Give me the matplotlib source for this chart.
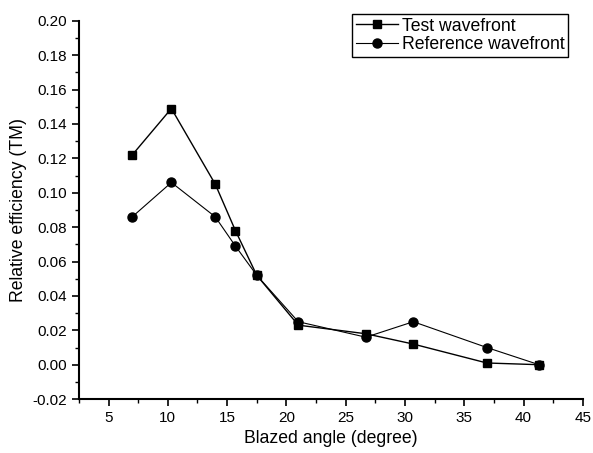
import matplotlib
matplotlib.use("Agg")
import matplotlib.pyplot as plt
from matplotlib.ticker import MultipleLocator, FormatStrFormatter

plt.rcParams['font.family'] = ['Liberation Sans', 'DejaVu Sans']

# data
angle = [7.0, 10.3, 14.0, 15.7, 17.5, 21.0, 26.7, 30.7, 36.9, 41.3]
test_eff = [0.122, 0.149, 0.105, 0.078, 0.052, 0.023, 0.018, 0.012, 0.001, 0.000]
ref_eff = [0.086, 0.106, 0.086, 0.069, 0.052, 0.025, 0.016, 0.025, 0.010, 0.000]

fig = plt.figure(figsize=(5.93, 4.53), dpi=100)
ax = fig.add_axes([0.133, 0.119, 0.85, 0.835])

ax.plot(angle, test_eff, color='black', lw=1, marker='s', ms=6, label='Test wavefront')
ax.plot(angle, ref_eff, color='black', lw=0.8, marker='o', ms=6.5, label='Reference wavefront')

ax.set_xlim(2.5, 45)
ax.set_ylim(-0.02, 0.20)
ax.xaxis.set_major_locator(MultipleLocator(5))
ax.xaxis.set_minor_locator(MultipleLocator(2.5))
ax.yaxis.set_major_locator(MultipleLocator(0.02))
ax.yaxis.set_minor_locator(MultipleLocator(0.01))
ax.yaxis.set_major_formatter(FormatStrFormatter('%.2f'))

ax.spines['top'].set_visible(False)
ax.spines['right'].set_visible(False)
ax.spines['left'].set_linewidth(1.5)
ax.spines['bottom'].set_linewidth(1.5)
ax.tick_params(which='major', direction='out', length=5, width=1.2, labelsize=11)
ax.tick_params(which='minor', direction='out', length=3, width=1)

ax.set_xlabel('Blazed angle (degree)', fontsize=12.7)
ax.set_ylabel('Relative efficiency (TM)', fontsize=12.7)

leg = ax.legend(loc='upper right', bbox_to_anchor=(568 / 593, 1 - 14 / 453),
                bbox_transform=fig.transFigure, fontsize=12.7,
                fancybox=False, edgecolor='black', framealpha=1,
                handlelength=2.4, handletextpad=0.2, borderpad=0.2,
                labelspacing=0.1, borderaxespad=0)
leg.get_frame().set_linewidth(1)

fig.savefig('out.png', dpi=100)
